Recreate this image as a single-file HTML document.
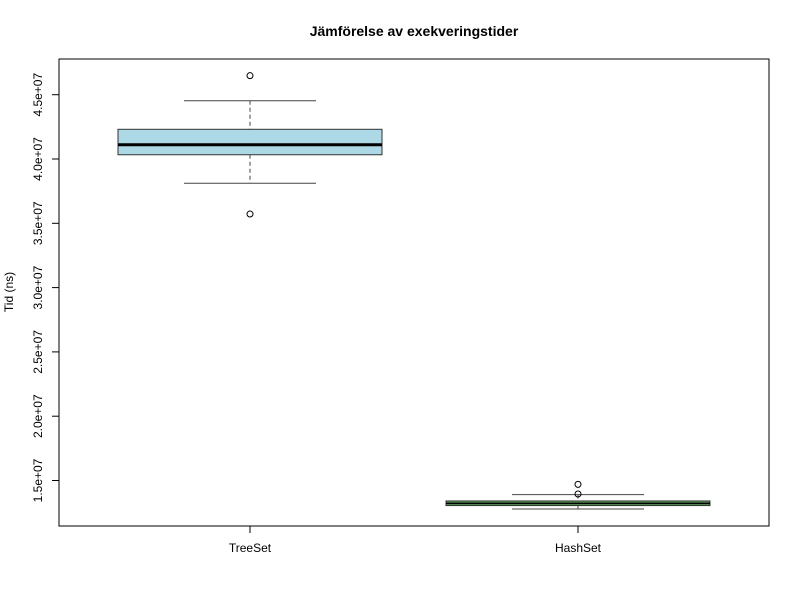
<!DOCTYPE html>
<html><head><meta charset="utf-8"><style>body{margin:0;background:#fff}svg{display:block;font-family:"Liberation Sans",sans-serif}</style></head>
<body>
<svg id="c" width="800" height="600" viewBox="0 0 800 600">
<rect width="800" height="600" fill="#fff"/>
<text x="414" y="36" text-anchor="middle" font-size="14" font-weight="bold">Jämförelse av exekveringstider</text>
<rect x="59" y="59" width="710" height="467" fill="none" stroke="#000"/>
<text transform="translate(13,292) rotate(-90)" text-anchor="middle" font-size="12">Tid (ns)</text>
<g id="g"></g>
</svg>
<script>
const categories=["TreeSet","HashSet"];
const whiskLow=[3.811e7,1.278e7];
const q1=[4.033e7,1.305e7];
const medians=[4.111e7,1.322e7];
const q3=[4.231e7,1.341e7];
const whiskHigh=[4.453e7,1.390e7];
const outliers=[[4.648e7,3.572e7],[1.470e7,1.395e7]];
const yTicks=[1.5e7,2.0e7,2.5e7,3.0e7,3.5e7,4.0e7,4.5e7];
const yTickLabels=["1.5e+07","2.0e+07","2.5e+07","3.0e+07","3.5e+07","4.0e+07","4.5e+07"];
const fills=["#add8e6","#5a9a5a"];
const NS="http://www.w3.org/2000/svg",g=document.getElementById("g");
const y=v=>159-(v-4e7)/5e6*64.3;
const x=i=>250+i*328;
function el(t,a){const e=document.createElementNS(NS,t);for(const k in a)e.setAttribute(k,a[k]);g.appendChild(e);return e;}
let e=el("line",{x1:59,x2:59,y1:y(yTicks[0]),y2:y(yTicks[6]),stroke:"#000"});


yTicks.forEach((v,i)=>{
 let t=el("line",{x1:52,x2:59,y1:y(v),y2:y(v),stroke:"#000"});
 
 
 let l=el("text",{transform:`translate(42,${y(v)}) rotate(-90)`,"text-anchor":"middle","font-size":"12"});
 l.textContent=yTickLabels[i];
 
 
});
categories.forEach((c,i)=>{
 const cx=x(i);
 let t=el("line",{x1:cx,x2:cx,y1:526,y2:533,stroke:"#000"});
 
 
 let l=el("text",{x:cx,y:552,"text-anchor":"middle","font-size":"12"});
 l.textContent=c;
 
 
 let w1=el("line",{x1:cx,x2:cx,y1:y(whiskHigh[i]),y2:y(q3[i]),stroke:"#444","stroke-dasharray":"4,3"});
 
 
 let w2=el("line",{x1:cx,x2:cx,y1:y(q1[i]),y2:y(whiskLow[i]),stroke:"#444","stroke-dasharray":"4,3"});
 
 
 let c1=el("line",{x1:cx-66,x2:cx+66,y1:y(whiskHigh[i]),y2:y(whiskHigh[i]),stroke:"#444"});
 
 
 let c2=el("line",{x1:cx-66,x2:cx+66,y1:y(whiskLow[i]),y2:y(whiskLow[i]),stroke:"#444"});
 
 
 let b=el("rect",{x:cx-132,width:264,y:y(q3[i]),height:y(q1[i])-y(q3[i]),fill:fills[i],stroke:"#333"});
 
 
 const bh=y(q1[i])-y(q3[i]);
 let m=el("line",{x1:cx-132,x2:cx+132,y1:y(medians[i]),y2:y(medians[i]),stroke:"#000","stroke-width":bh>10?3:1.5});
 
 
 outliers[i].forEach(v=>{
  let o=el("circle",{cx:cx,cy:y(v),r:3,fill:"none",stroke:"#000"});
  
  
 });
});
</script>
</body></html>
